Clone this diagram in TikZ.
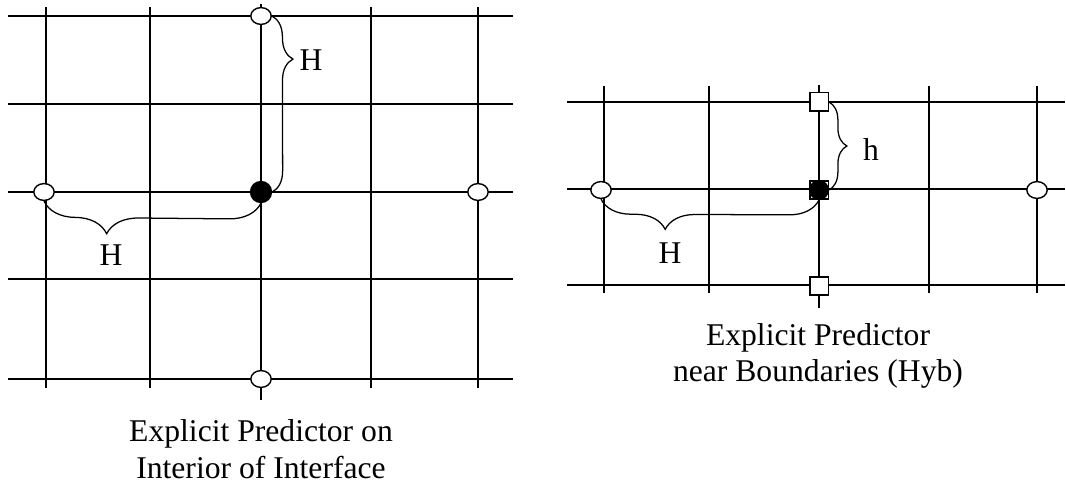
\documentclass[tikz,border=0pt]{standalone}
\usepackage{fontspec}
\setmainfont{Liberation Serif}
\usetikzlibrary{shapes.geometric,decorations.pathreplacing}

\begin{document}
\begin{tikzpicture}[x=0.25mm, y=-0.25mm, line width=1.1pt,
    hole/.style={draw, fill=white, ellipse, inner sep=0pt, minimum width=5.1mm, minimum height=4.2mm, line width=1pt},
    dot/.style={draw, fill=black, circle, inner sep=0pt, minimum size=5.2mm},
    box/.style={draw, fill=white, rectangle, inner sep=0pt, minimum size=4.6mm, line width=1pt},
    gap/.style={decorate, decoration={brace, amplitude=#1}, line width=0.9pt},
    lbl/.style={inner sep=0pt, font=\fontsize{22.5}{26}\selectfont},
    caption/.style={lbl, align=center}]

    \useasboundingbox (0,0) rectangle (1066,485);

    % --- Left grid: interior of interface ---
    \foreach \y in {16,104,192,279,379}
        \draw (8,\y) -- (513,\y);
    \foreach \x in {46,150,371,478}
        \draw (\x,7) -- (\x,388);
    \draw (261,4) -- (261,400);

    % coarse points H away, and the predicted point
    \node[hole] (ltop) at (261,16) {};
    \node[hole] (lwest) at (44,192) {};
    \node[hole] (least) at (478,192) {};
    \node[hole] (lbot) at (261,379) {};
    \node[dot] (lmid) at (261,192) {};

    % spacing braces
    \draw[gap=5.25mm, decoration={aspect=0.245}] (ltop.east) -- (lmid.east);
    \draw[gap=8mm, decoration={aspect=0.71}] (lmid.south) -- (lwest.south);
    \node[lbl] (lvH) at (311,60) {H};
    \node[lbl] (lhH) at (111,255) {H};

    % --- Right grid: near boundaries ---
    \foreach \y in {102,189,285}
        \draw (567,\y) -- (1065,\y);
    \foreach \x in {604,709,929,1037}
        \draw (\x,86) -- (\x,293);
    \draw (819,85) -- (819,308);

    % fine points h away, coarse points H away
    \node[box] (rtop) at (819,102) {};
    \node[box] (rbot) at (819,286) {};
    \node[box] (rsq) at (819,190) {};
    \node[dot, minimum size=4.6mm] (rmid) at (819,190) {};
    \node[hole] (rwest) at (601,190) {};
    \node[hole] (reast) at (1037,190) {};

    % spacing braces
    \draw[gap=4.5mm, decoration={aspect=0.5}] (rtop.east) -- (rsq.east);
    \draw[gap=7.5mm, decoration={aspect=0.705}] (rmid.south) -- (rwest.south);
    \node[lbl] (rvh) at (871,150) {h};
    \node[lbl] (rhH) at (670,253) {H};

    % --- Captions ---
    \node[caption] (lcap) at (261,449) {Explicit Predictor on\\Interior of Interface};
    \node[caption] (rcap) at (818,356) {Explicit Predictor\\near Boundaries (Hyb)};

\end{tikzpicture}
\end{document}
